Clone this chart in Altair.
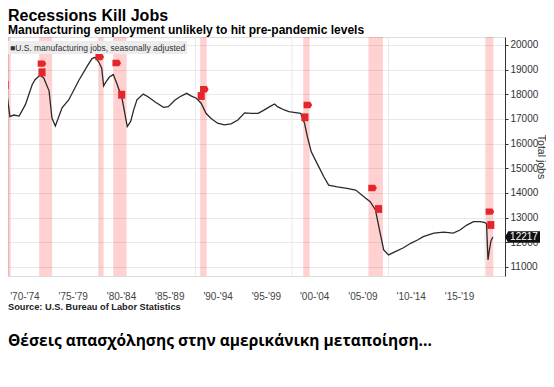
import altair as alt
import pandas as pd

# ---- data ----
years = [1970.0, 1970.3, 1970.5, 1970.8, 1971.2, 1971.75, 1972.4, 1973.1, 1973.4, 1973.9,
         1974.3, 1974.85, 1975.15, 1975.5, 1976.2, 1976.9, 1977.9, 1978.8, 1979.3, 1979.6,
         1980.0, 1980.3, 1980.5, 1980.8, 1981.1, 1981.5, 1981.85, 1982.4, 1982.95, 1983.3,
         1983.6, 1983.95, 1984.6, 1985.1, 1985.8, 1986.7, 1987.2, 1987.9, 1988.4, 1989.1,
         1989.6, 1990.1, 1990.6, 1991.1, 1991.6, 1992.3, 1993.0, 1993.7, 1994.4, 1995.1,
         1995.8, 1996.5, 1997.1, 1997.7, 1998.2, 1998.5, 1999.2, 1999.7, 2000.2, 2000.9,
         2001.3, 2001.6, 2002.0, 2002.6, 2003.3, 2003.8, 2004.7, 2005.7, 2006.6, 2007.45,
         2008.1, 2008.65, 2009.0, 2009.5, 2010.0, 2010.7, 2011.5, 2012.3, 2013.0, 2013.6,
         2014.7, 2015.7, 2016.7, 2017.4, 2018.1, 2018.8, 2019.5, 2020.0, 2020.15, 2020.3,
         2020.45, 2020.6, 2020.8]
jobs = [18750, 18400, 17970, 17100, 17160, 17120, 17580, 18390, 18590, 18770,
        18660, 18140, 17040, 16720, 17450, 17780, 18540, 19140, 19450, 19500,
        19310, 19070, 18340, 18540, 18700, 18800, 18460, 17850, 16690, 16900,
        17350, 17780, 18010, 17900, 17700, 17470, 17500, 17770, 17900, 18040,
        17930, 17840, 17640, 17230, 17030, 16830, 16760, 16800, 16960, 17250,
        17230, 17230, 17360, 17500, 17610, 17500, 17365, 17300, 17270, 17230,
        16830, 16280, 15670, 15200, 14660, 14320, 14250, 14190, 14120, 13850,
        13650, 13310, 12630, 11690, 11490, 11620, 11770, 11960, 12095, 12230,
        12370, 12410, 12370, 12500, 12700, 12840, 12840, 12800, 12750, 11290,
        11700, 12050, 12217]

rec_start = [1969.92, 1973.83, 1980.0, 1981.5, 1990.5, 2001.17, 2007.92, 2020.08]
rec_end = [1970.88, 1975.17, 1980.5, 1982.88, 1991.17, 2001.83, 2009.42, 2020.85]

flag_top_year = [1970.2, 1974.12, 1980.1, 1981.86, 1990.93, 2001.65, 2008.35, 2020.5]
flag_top_val = [18946, 19242, 19514, 19270, 18204, 17568, 14203, 13242]
flag_low_year = [1970.3, 1974.12, 1982.37, 1990.6, 2001.34, 2008.97, 2020.59]
flag_low_val = [18378, 18893, 17985, 17932, 17069, 13351, 12703]

tick_pos = [1972.3, 1977.3, 1982.3, 1987.3, 1992.3, 1997.3, 2002.3, 2007.3, 2012.3, 2017.3]
tick_labels = ["'70-'74", "'75-'79", "'80-'84", "'85-'89", "'90-'94",
               "'95-'99", "'00-'04", "'05-'09", "'10-'14", "'15-'19"]
grid_years = [1980, 1990, 2000, 2010, 2020]
y_ticks = [11000, 12000, 13000, 14000, 15000, 16000, 17000, 18000, 19000, 20000]
last_value = 12217

title = "Recessions Kill Jobs"
subtitle = "Manufacturing employment unlikely to hit pre-pandemic levels"
legend_text = "\u25a0U.S. manufacturing jobs, seasonally adjusted"
source_text = "Source: U.S. Bureau of Labor Statistics"
caption_text = "Θέσεις απασχόλησης  στην αμερικάνικη μεταποίηση..."

# ---- layout ----
W, H = 497, 239
X_DOM = [1970.6, 2022.06]
Y_DOM = [10635, 20324]
FONT = "Liberation Sans"

xs = alt.Scale(domain=X_DOM, nice=False, zero=False)
ys = alt.Scale(domain=Y_DOM, nice=False, zero=False)

line_df = pd.DataFrame({"year": years, "jobs": jobs})
rec_df = pd.DataFrame({"start": rec_start, "end": rec_end})
grid_df = pd.DataFrame({"year": grid_years})
ftop_df = pd.DataFrame({"year": flag_top_year, "val": flag_top_val})
flow_df = pd.DataFrame({"year": flag_low_year, "val": flag_low_val})
last_df = pd.DataFrame({"val": [last_value], "label": [str(last_value)]})

label_expr = ("[" + ",".join('"%s"' % l for l in tick_labels) + "][indexof(["
              + ",".join(repr(p) for p in tick_pos) + "], datum.value)]")

x_axis = alt.Axis(values=tick_pos, labelExpr=label_expr, ticks=False, domain=False,
                  grid=False, labelPadding=15, labelFontSize=10, labelColor="#444",
                  labelFlush=False, labelOverlap=False, title=None, labelFont=FONT)
y_axis = alt.Axis(orient="right", values=y_ticks, format="d", labelFontSize=10,
                  labelColor="#333", tickSize=3, tickColor="#333", domainColor="#333",
                  grid=True, gridColor="#e9e9e9", title="Total jobs", titleFontSize=10.5,
                  titleFontWeight="normal", titleColor="#333",
                  titleX=32, titleY=H / 2, titleAngle=90, titleAlign="center",
                  titleBaseline="alphabetic",
                  labelPadding=2, labelFont=FONT, titleFont=FONT,
                  labelOverlap=False, labelFlush=False)


def X(field):
    return alt.X(field, type="quantitative", scale=xs, axis=x_axis)


def Y(field):
    return alt.Y(field, type="quantitative", scale=ys, axis=y_axis)


line = alt.Chart(line_df).mark_line(color="#2a2a2a", strokeWidth=1.3, clip=True).encode(
    x=X("year"), y=Y("jobs"))

vgrid = alt.Chart(grid_df).mark_rule(color="#e9e9e9", strokeWidth=1).encode(
    x=X("year"), y=alt.value(0), y2=alt.value(H))

bands = alt.Chart(rec_df).mark_rect(color="#ff1a1a", opacity=0.2, clip=True).encode(
    x=X("start"), x2="end:Q", y=alt.value(0), y2=alt.value(H))

arrow_shape = "M-2.3,-1.7 L1.3,-1.7 L2.3,0 L1.3,1.7 L-2.3,1.7 Z"
square_shape = "M-1.9,-2.1 L1.9,-2.1 L1.9,2.1 L-1.9,2.1 Z"

flags_top = alt.Chart(ftop_df).mark_point(shape=arrow_shape, filled=True, size=14,
                                          color="#e5252c", opacity=1, clip=True).encode(
    x=X("year"), y=Y("val"))
flags_low = alt.Chart(flow_df).mark_point(shape=square_shape, filled=True, size=14,
                                          color="#e5252c", opacity=1, clip=True).encode(
    x=X("year"), y=Y("val"))

legend_bg = alt.Chart(pd.DataFrame({"t": [legend_text]})).mark_rect(color="#ececec").encode(
    x=alt.value(0), x2=alt.value(179), y=alt.value(4), y2=alt.value(17))
legend_tx = alt.Chart(pd.DataFrame({"t": [legend_text]})).mark_text(
    align="left", baseline="alphabetic", fontSize=8.5, color="#333", font=FONT).encode(
    x=alt.value(2), y=alt.value(14), text="t:N")

box_shape = "M0,0 L1.6,-2.9 L17.5,-2.9 L17.5,2.9 L1.6,2.9 Z"
last_box = alt.Chart(last_df).mark_point(shape=box_shape, filled=True, size=16,
                                         color="#111", opacity=1).encode(
    x=alt.value(W), y=Y("val"))
last_tx = alt.Chart(last_df).mark_text(color="white", fontSize=10, font=FONT,
                                       align="center", baseline="middle").encode(
    x=alt.value(W + 19), y=Y("val"), text="label:N")

src = alt.Chart(pd.DataFrame({"t": [source_text]})).mark_text(
    align="left", baseline="middle", fontSize=9.25, fontWeight="bold",
    color="#222", font=FONT).encode(x=alt.value(0), y=alt.value(H + 30.5), text="t:N")
cap = alt.Chart(pd.DataFrame({"t": [caption_text]})).mark_text(
    align="left", baseline="alphabetic", fontSize=15.5, fontWeight="bold",
    color="#000", font="Open Sans").encode(x=alt.value(0), y=alt.value(H + 70), text="t:N")

chart = alt.layer(vgrid, bands, line, flags_top, flags_low, legend_bg, legend_tx,
                  last_box, last_tx, src, cap).properties(
    width=W, height=H,
    title=alt.TitleParams(text=title, subtitle=subtitle, anchor="start", frame="group",
                          fontSize=16, subtitleFontSize=12, font=FONT, subtitleFont=FONT,
                          fontWeight="bold", subtitleFontWeight="bold", color="#000",
                          subtitleColor="#000", subtitlePadding=1, offset=1),
    autosize=alt.AutoSizeParams(type="none"),
    padding={"left": 0, "top": 29, "right": 41, "bottom": 80},
    background="white",
).configure_view(stroke=None).configure(font=FONT)

chart.save("out.html", embed_options={"renderer": "svg", "actions": False})
